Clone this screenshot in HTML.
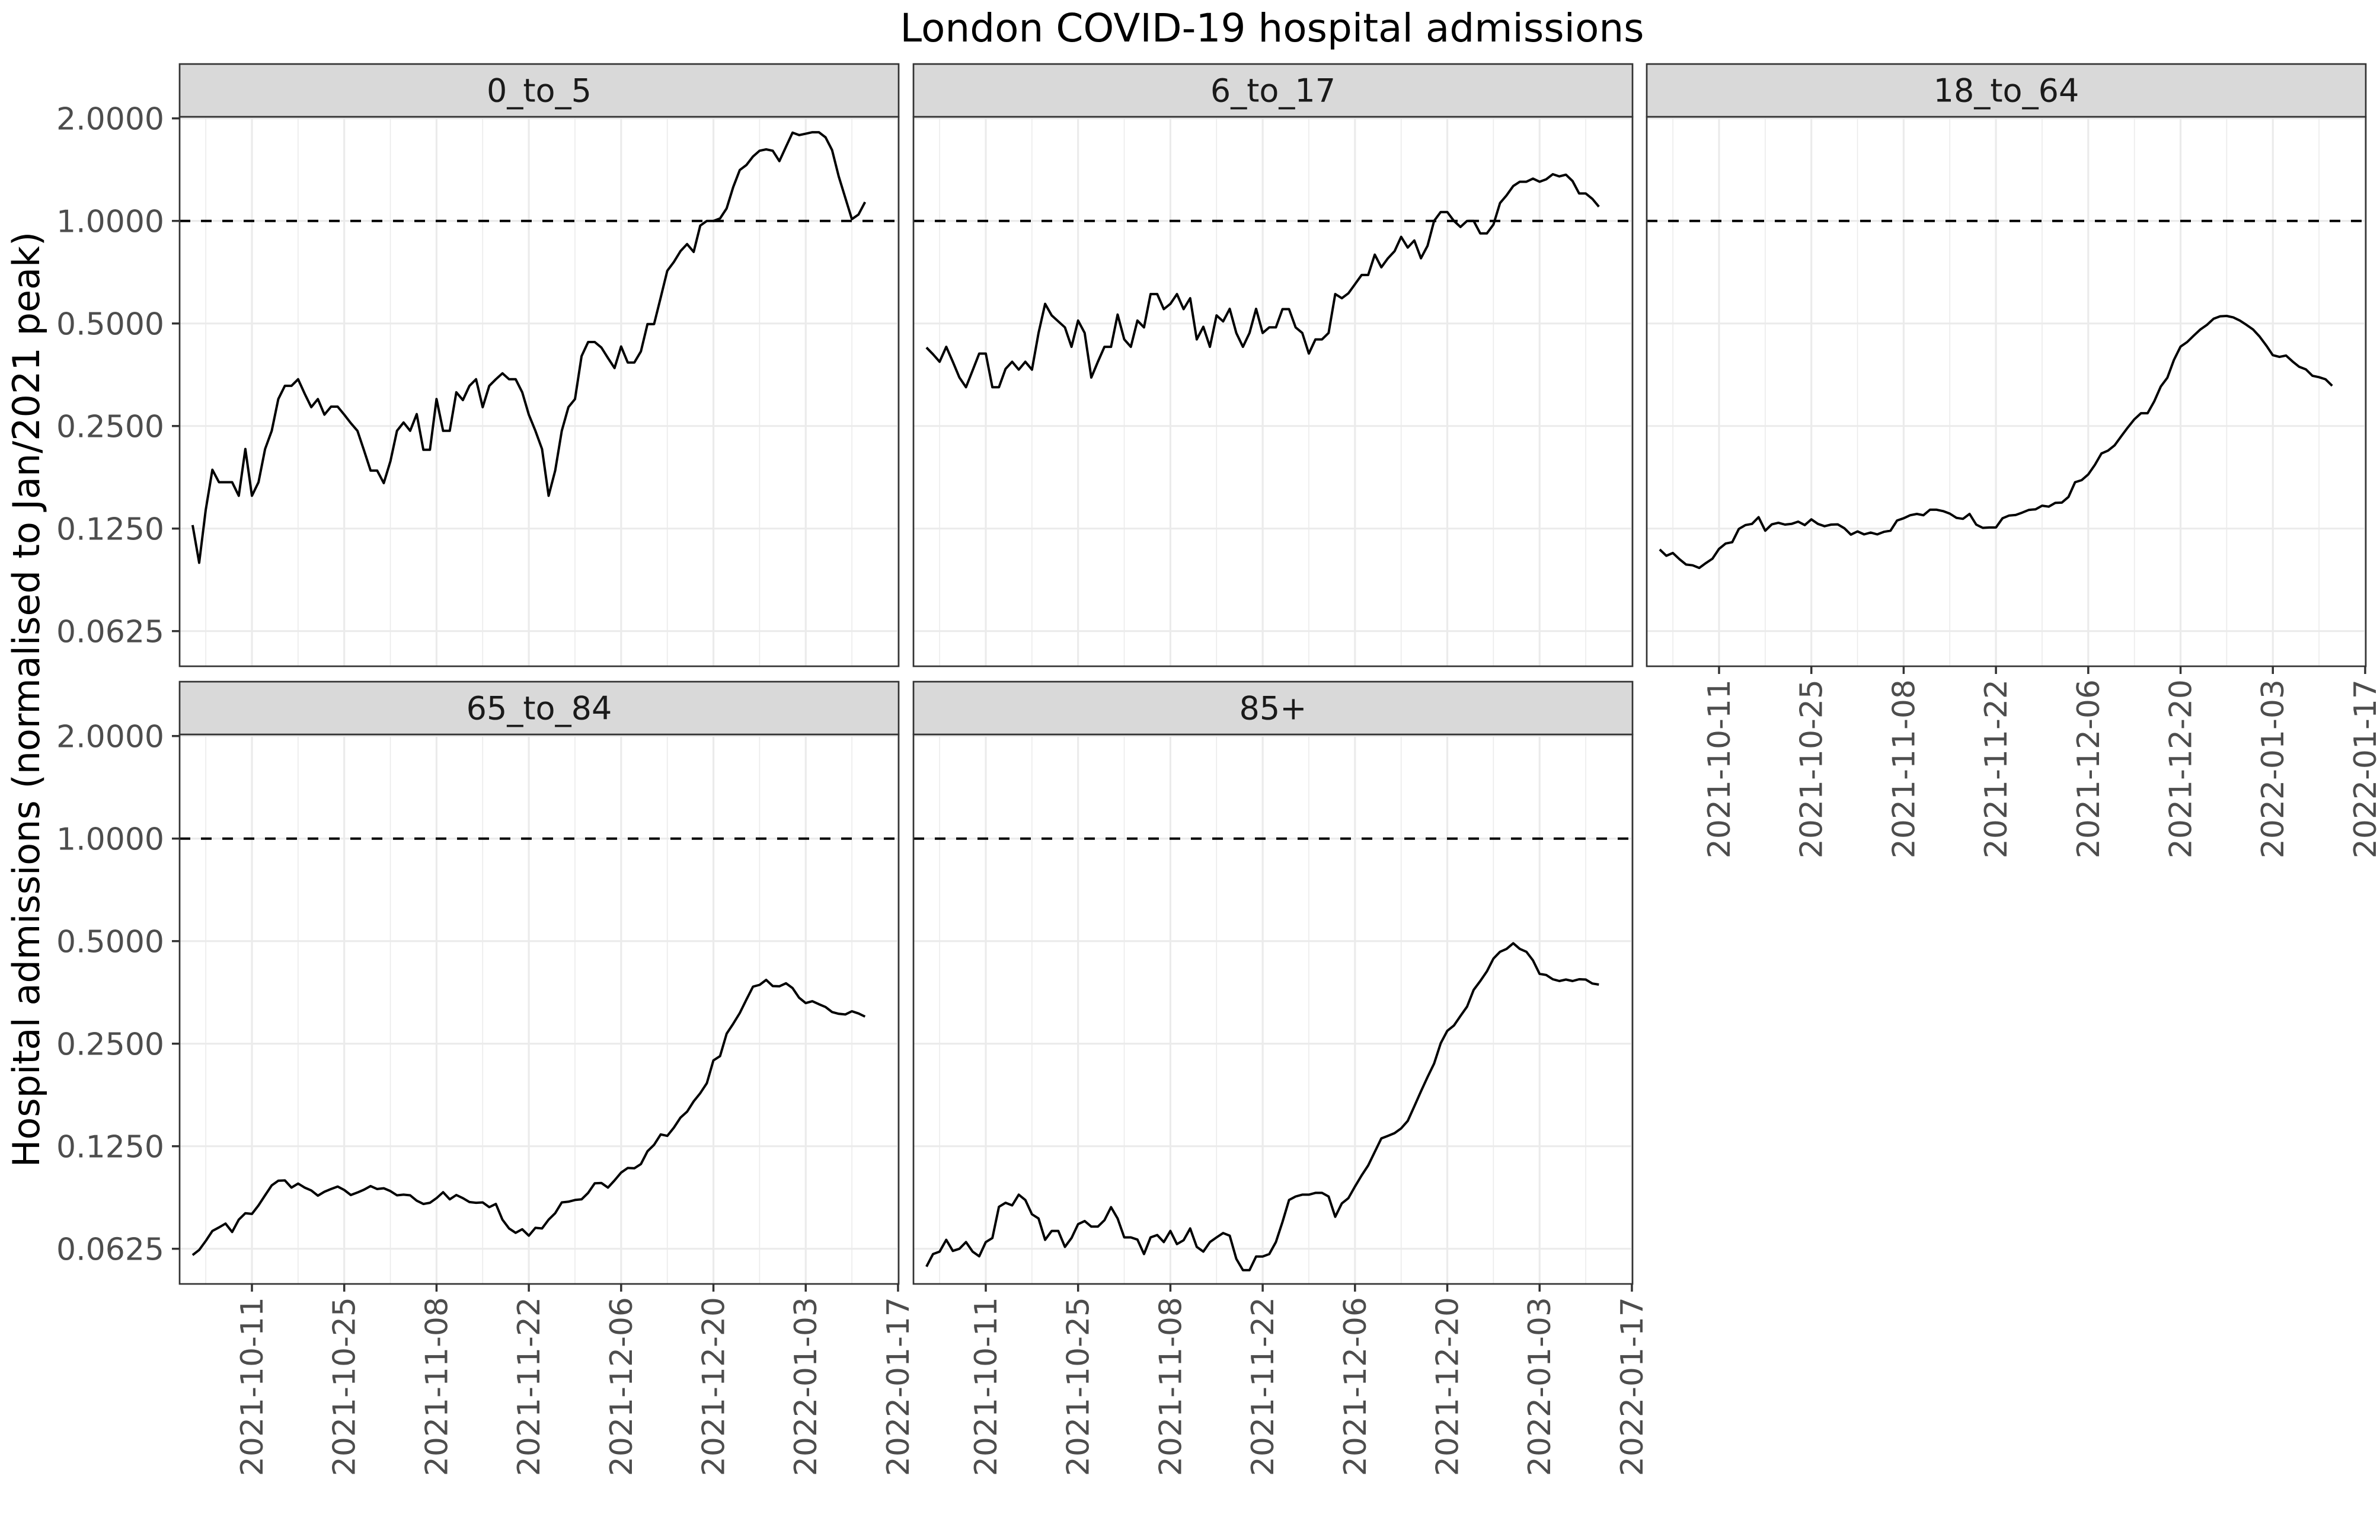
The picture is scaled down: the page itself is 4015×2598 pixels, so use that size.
<!DOCTYPE html>
<html><head><meta charset="utf-8"><title>London COVID-19 hospital admissions</title>
<style>
html,body{margin:0;padding:0;background:#fff;}
svg{display:block;font-family:"DejaVu Sans","Liberation Sans",sans-serif;}
</style></head>
<body>
<svg id="chart" width="4015" height="2598" viewBox="0 0 4015 2598" xmlns="http://www.w3.org/2000/svg">
<rect x="0" y="0" width="4015" height="2598" fill="#fff"/>
<text x="2146" y="70" font-size="66" text-anchor="middle" fill="#000">London COVID-19 hospital admissions</text>
<text transform="translate(66,1180) rotate(-90)" font-size="62" text-anchor="middle" fill="#000">Hospital admissions (normalised to Jan/2021 peak)</text>
</svg>
<script>
const startDate = "2021-10-02";
const panelNames = ["0_to_5","6_to_17","18_to_64","65_to_84","85+"];
const yTickValues = [2,1,0.5,0.25,0.125,0.0625];
const yTickLabels = ["2.0000","1.0000","0.5000","0.2500","0.1250","0.0625"];
const xTickLabels = ["2021-10-11","2021-10-25","2021-11-08","2021-11-22","2021-12-06","2021-12-20","2022-01-03","2022-01-17"];
const refLevel = 1;
const series0to5 = [0.128,0.0992,0.142,0.186,0.171,0.171,0.171,0.156,0.214,0.156,
0.171,0.214,0.242,0.300,0.328,0.328,0.343,0.311,0.284,0.300,
0.270,0.285,0.285,0.270,0.255,0.242,0.212,0.185,0.185,0.170,
0.197,0.242,0.256,0.242,0.271,0.213,0.213,0.300,0.242,0.242,
0.314,0.298,0.328,0.343,0.284,0.328,0.343,0.357,0.343,0.343,
0.314,0.270,0.242,0.214,0.156,0.185,0.242,0.284,0.300,0.401,
0.441,0.441,0.425,0.396,0.370,0.428,0.384,0.384,0.414,0.498,
0.498,0.596,0.714,0.758,0.815,0.855,0.811,0.969,1.0,1.0,
1.017,1.088,1.257,1.411,1.459,1.546,1.607,1.622,1.607,1.498,
1.650,1.816,1.786,1.803,1.821,1.821,1.760,1.614,1.351,1.169,
1.012,1.044,1.136];
const series6to17 = [0.425,0.406,0.386,0.427,0.386,0.347,0.325,0.364,0.408,0.408,
0.325,0.325,0.368,0.386,0.366,0.386,0.366,0.469,0.571,0.528,
0.507,0.487,0.427,0.510,0.469,0.347,0.386,0.427,0.427,0.531,
0.449,0.427,0.510,0.487,0.610,0.610,0.551,0.571,0.610,0.551,
0.593,0.449,0.489,0.427,0.528,0.507,0.552,0.469,0.427,0.469,
0.552,0.469,0.487,0.487,0.551,0.551,0.487,0.469,0.408,0.449,
0.449,0.469,0.610,0.593,0.613,0.652,0.694,0.694,0.796,0.731,
0.777,0.815,0.898,0.835,0.876,0.777,0.845,1.0,1.062,1.062,
1.0,0.960,1.0,1.0,0.919,0.919,0.976,1.128,1.189,1.266,
1.303,1.303,1.331,1.303,1.325,1.371,1.351,1.367,1.309,1.204,
1.204,1.161,1.101];
const series18to64 = [0.1085,0.104,0.106,0.1016,0.098,0.0975,0.0958,0.099,0.102,0.109,
0.113,0.114,0.1247,0.128,0.129,0.135,0.1232,0.1286,0.130,0.1284,
0.129,0.131,0.128,0.133,0.129,0.127,0.1284,0.1286,0.1253,0.120,
0.1226,0.1202,0.1217,0.1202,0.1223,0.1232,0.132,0.134,0.1368,0.138,
0.1368,0.142,0.142,0.1406,0.1383,0.1344,0.1335,0.138,0.1284,0.1256,
0.1259,0.1259,0.134,0.1365,0.137,0.1393,0.1418,0.1424,0.1459,0.145,
0.1487,0.149,0.1548,0.171,0.1734,0.1802,0.1923,0.2077,0.2117,0.2194,
0.2332,0.2476,0.2617,0.2726,0.2726,0.2952,0.3264,0.3466,0.391,0.4275,
0.441,0.4606,0.480,0.4952,0.516,0.5248,0.526,0.521,0.510,0.4952,
0.480,0.4575,0.431,0.4035,0.3988,0.4026,0.3866,0.373,0.3667,0.3512,
0.3478,0.3428,0.3282];
const series65to84 = [0.0599,0.0620,0.0659,0.0705,0.0722,0.0741,0.0700,0.0761,0.0795,0.0791,
0.0838,0.0897,0.0959,0.0990,0.0992,0.0945,0.0971,0.0945,0.0927,0.0895,
0.0919,0.0936,0.0952,0.0930,0.0899,0.0914,0.0932,0.0955,0.0936,0.0941,
0.0923,0.0897,0.0901,0.0897,0.0865,0.0846,0.0853,0.0880,0.0916,0.0873,
0.0899,0.0880,0.0857,0.0853,0.0855,0.0828,0.0846,0.0761,0.0717,0.0696,
0.0713,0.0683,0.0720,0.0717,0.0761,0.0795,0.0855,0.0859,0.0869,0.0873,
0.0912,0.0973,0.0975,0.0945,0.0992,0.1046,0.1079,0.1077,0.1108,0.1208,
0.1262,0.1354,0.1341,0.1417,0.1516,0.1579,0.1693,0.1789,0.1914,0.2233,
0.2298,0.2674,0.2860,0.3075,0.337,0.3675,0.372,0.3847,0.369,0.3685,
0.376,0.364,0.341,0.329,0.333,0.3265,0.3204,0.3097,0.306,0.3046,
0.3112,0.3067,0.3002];
const series85plus = [0.0554,0.0603,0.0613,0.0664,0.0616,0.0625,0.0654,0.0613,0.0594,0.0654,
0.0672,0.0830,0.0853,0.0838,0.0901,0.0869,0.0789,0.0767,0.0664,0.0705,
0.0705,0.0633,0.0672,0.0738,0.0754,0.0726,0.0726,0.0758,0.0828,0.0767,
0.0675,0.0675,0.0665,0.0603,0.0675,0.0686,0.0654,0.0705,0.0645,0.0662,
0.0717,0.0633,0.0613,0.0654,0.0675,0.0695,0.0683,0.0584,0.0541,0.0541,
0.0593,0.0593,0.0603,0.0654,0.0749,0.0869,0.0890,0.0901,0.0901,0.0912,
0.0912,0.0890,0.0776,0.0849,0.0880,0.0952,0.1026,0.1098,0.1203,0.1318,
0.1341,0.1366,0.141,0.1483,0.1637,0.1811,0.1994,0.2185,0.2506,0.2726,
0.2826,0.3016,0.3211,0.3595,0.3818,0.4075,0.4444,0.4653,0.4744,0.4928,
0.4744,0.4653,0.439,0.4008,0.3978,0.3864,0.3818,0.3856,0.3818,0.3864,
0.3856,0.3755,0.3727];
const allSeries = [series0to5, series6to17, series18to64, series65to84, series85plus];

const NS = "http://www.w3.org/2000/svg";
const svg = document.getElementById("chart");
const colLeft = [303, 1541, 2778];
const panelW = 1213;
const rowOffset = [0, 1042];
const stripTop = 108, stripBot = 197, plotBot = 1124;
const DAY = 86400000;
const t0 = Date.parse("2021-10-11T00:00:00Z");
const tStart = Date.parse(startDate + "T00:00:00Z");
function xScale(left, dayOffset){ return left + 122 + dayOffset * 11.122; }
function yScale(off, v){ return off + 372.7 - 173 * Math.log2(v); }
function mk(tag, attrs, parent){
  const e = document.createElementNS(NS, tag);
  for (const k in attrs) e.setAttribute(k, attrs[k]);
  (parent || svg).appendChild(e);
  return e;
}
const tickDays = xTickLabels.map(s => (Date.parse(s + "T00:00:00Z") - t0) / DAY);

allSeries.forEach((vals, p) => {
  const row = p < 3 ? 0 : 1, col = p % 3;
  const L = colLeft[col], off = rowOffset[row];
  const g = mk("g", {});
  
  
  mk("rect", {x:L, y:off+stripBot, width:panelW, height:plotBot-stripBot, fill:"#fff"}, g);
  for (let i = 0; i < tickDays.length; i++) {
    const md = tickDays[i] - 7;
    const gx = xScale(L, md);
    if (gx > L && gx < L + panelW) mk("line", {x1:gx, x2:gx, y1:off+stripBot, y2:off+plotBot, stroke:"#ebebeb", "stroke-width":1.6}, g);
  }
  yTickValues.forEach(v => {
    const gy = yScale(off, v);
    mk("line", {x1:L, x2:L+panelW, y1:gy, y2:gy, stroke:"#ebebeb", "stroke-width":3.2}, g);
  });
  tickDays.forEach(d => {
    const gx = xScale(L, d);
    if (gx <= L + panelW + 1) mk("line", {x1:gx, x2:gx, y1:off+stripBot, y2:off+plotBot, stroke:"#ebebeb", "stroke-width":3.2}, g);
  });
  const ry = yScale(off, refLevel);
  const ref = mk("line", {x1:L, x2:L+panelW, y1:ry, y2:ry, stroke:"#000", "stroke-width":4, "stroke-dasharray":"18 18"}, g);
  
  
  const pts = vals.map((v, i) => {
    const d = (tStart - t0) / DAY + i;
    return xScale(L, d).toFixed(1) + "," + yScale(off, v).toFixed(1);
  }).join(" ");
  const line = mk("polyline", {points:pts, fill:"none", stroke:"#000", "stroke-width":4, "stroke-linejoin":"round"}, g);
  
  
  mk("rect", {x:L, y:off+stripBot, width:panelW, height:plotBot-stripBot, fill:"none", stroke:"#333", "stroke-width":2.7}, g);
  const strip = mk("rect", {x:L, y:off+stripTop, width:panelW, height:stripBot-stripTop, fill:"#d9d9d9", stroke:"#333", "stroke-width":2.7}, g);
  
  
  const st = mk("text", {x:L+panelW/2, y:off+stripTop+(stripBot-stripTop)/2+19, "font-size":54, "text-anchor":"middle", fill:"#1a1a1a"}, g);
  st.textContent = panelNames[p];
  
  
  if (col === 0) {
    yTickValues.forEach((v, i) => {
      const gy = yScale(off, v);
      mk("line", {x1:L-13, x2:L, y1:gy, y2:gy, stroke:"#333", "stroke-width":3.5}, g);
      const t = mk("text", {x:L-26, y:gy+19, "font-size":52, "text-anchor":"end", fill:"#4d4d4d"}, g);
      t.textContent = yTickLabels[i];
      
      
    });
  }
  const hasX = (row === 1) || (col === 2);
  if (hasX) {
    const by = off + plotBot;
    tickDays.forEach((d, i) => {
      const gx = xScale(L, d);
      mk("line", {x1:gx, x2:gx, y1:by, y2:by+13, stroke:"#333", "stroke-width":3.5}, g);
      const t = mk("text", {transform:"translate(" + (gx+18) + "," + (by+22) + ") rotate(-90)", "font-size":52, "text-anchor":"end", fill:"#4d4d4d"}, g);
      t.textContent = xTickLabels[i];
      
      
    });
  }
});
</script>
</body></html>
